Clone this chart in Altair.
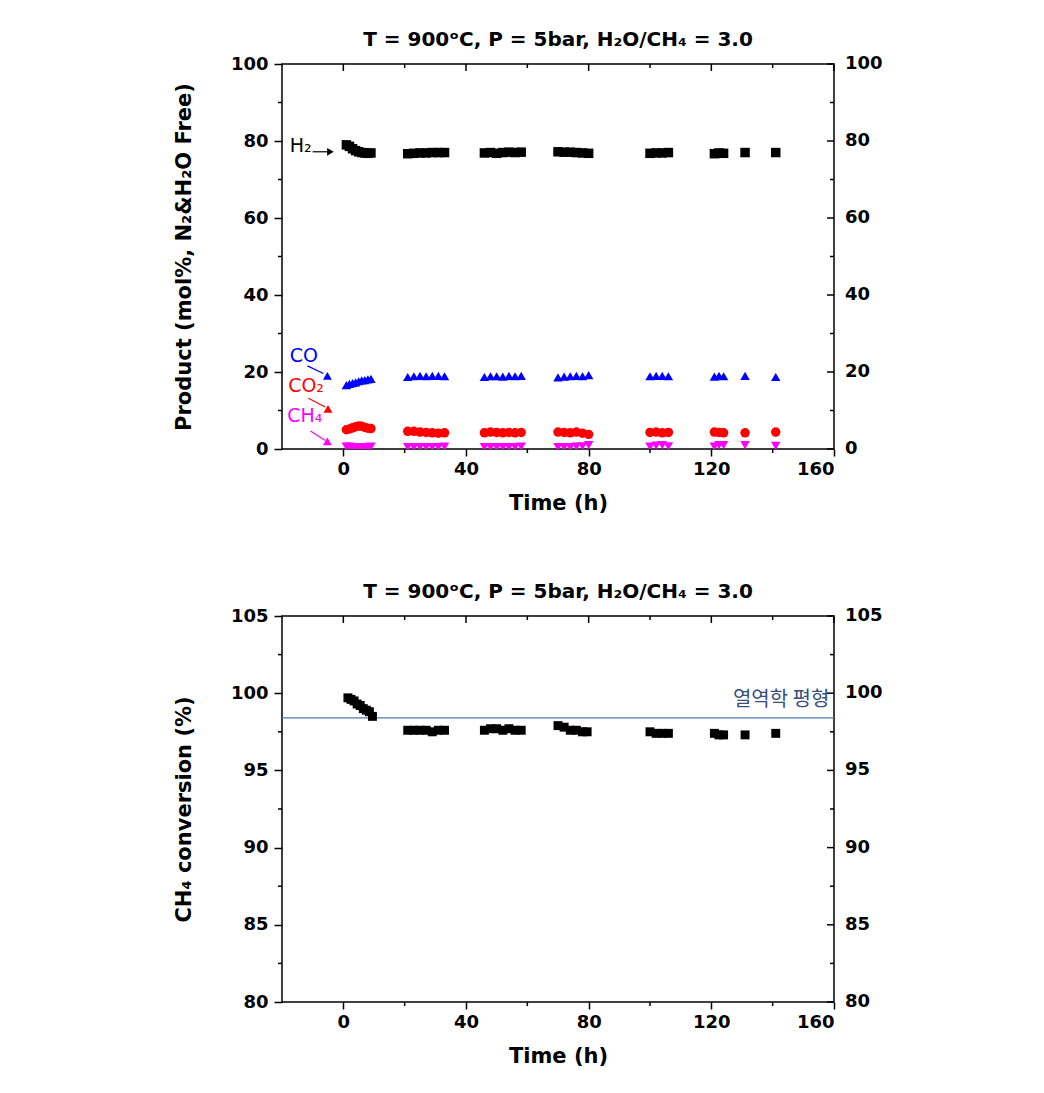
import altair as alt
import pandas as pd

# ---------------- data ----------------
# product composition (mol%, N2 & H2O free)
time_h = [1, 2, 3, 4, 5, 6, 7, 8, 9,
          21, 23, 25, 27, 29, 31, 33,
          46, 48, 50, 52, 54, 56, 58,
          70, 72, 74, 76, 78, 80,
          100, 102, 104, 106,
          121, 122.5, 124,
          131,
          141]
h2 = [79.0, 78.6, 78.0, 77.5, 77.2, 77.0, 76.9, 76.8, 76.9,
      76.7, 76.8, 76.9, 76.9, 77.0, 77.0, 77.0,
      76.9, 77.0, 76.8, 77.0, 77.1, 77.0, 77.1,
      77.2, 77.1, 77.1, 77.0, 76.9, 76.8,
      76.8, 76.9, 76.9, 77.0,
      76.7, 76.9, 76.8,
      77.0,
      77.0]
co = [16.6, 16.9, 17.1, 17.3, 17.6, 17.8, 17.9, 18.1, 18.2,
      18.7, 18.9, 19.0, 18.9, 19.0, 19.0, 18.9,
      18.7, 18.9, 18.9, 18.8, 19.0, 18.9, 19.0,
      18.6, 18.8, 18.9, 19.0, 18.9, 19.2,
      18.9, 19.0, 19.0, 18.9,
      18.8, 19.0, 18.9,
      19.0,
      18.7]
co2 = [5.0, 5.2, 5.5, 5.8, 6.0, 5.9, 5.6, 5.4, 5.3,
       4.6, 4.6, 4.4, 4.3, 4.2, 4.1, 4.2,
       4.2, 4.4, 4.3, 4.2, 4.3, 4.2, 4.3,
       4.4, 4.3, 4.2, 4.4, 4.1, 3.8,
       4.3, 4.4, 4.2, 4.3,
       4.4, 4.3, 4.2,
       4.2,
       4.4]
ch4 = [0.6, 0.6, 0.5, 0.5, 0.5, 0.5, 0.5, 0.5, 0.6,
       0.5, 0.5, 0.5, 0.5, 0.5, 0.5, 0.6,
       0.5, 0.5, 0.5, 0.5, 0.5, 0.5, 0.6,
       0.5, 0.5, 0.5, 0.6, 0.7, 1.0,
       0.6, 0.9, 1.0, 0.7,
       0.6, 1.0, 1.0,
       1.0,
       0.8]

# CH4 conversion (%)
conv_time = [1.5, 2.5, 3.5, 4.5, 5.5, 6.5, 7.5, 8.5, 9.5,
             21, 23, 25, 27, 29, 31, 33,
             46, 48, 50, 52, 54, 56, 58,
             70, 72, 74, 76, 78, 79.5,
             100, 102, 104, 106,
             121, 122.5, 124,
             131,
             141]
ch4_conv = [99.7, 99.6, 99.5, 99.3, 99.2, 99.0, 98.9, 98.8, 98.5,
            97.6, 97.6, 97.6, 97.6, 97.5, 97.6, 97.6,
            97.6, 97.7, 97.7, 97.6, 97.7, 97.6, 97.6,
            97.9, 97.8, 97.6, 97.6, 97.5, 97.5,
            97.5, 97.4, 97.4, 97.4,
            97.4, 97.3, 97.3,
            97.3,
            97.4]

equilibrium_value = [98.4]
equilibrium_label = ["열역학 평형"]
equilibrium_label_t = [158.5]

title_text = "T = 900ᵒC, P = 5bar, H₂O/CH₄ = 3.0"

series_names = ["H₂", "CO", "CO₂", "CH₄"]
series_colors = ["#000000", "#0000ff", "#ff0000", "#ff00ff"]
series_shapes = ["square", "triangle-up", "circle", "triangle-down"]

# in-plot labels with arrows (top panel, data units)
ann_label = ["H₂", "CO", "CO₂", "CH₄"]
ann_text_t = [-17.5, -17.5, -18.0, -18.3]
ann_text_v = [78.6, 24.2, 16.4, 8.6]
ann_line_t1 = [-10.0, -11.7, -11.4, -10.7]
ann_line_v1 = [77.2, 21.6, 13.2, 4.7]
ann_line_t2 = [-4.5, -6.5, -5.9, -5.9]
ann_line_v2 = [77.2, 19.6, 10.9, 2.2]
ann_head_t = [-4.2, -5.2, -5.0, -5.2]
ann_head_v = [77.2, 19.0, 10.4, 2.0]

# axis ticks
x_major = [0, 40, 80, 120, 160]
x_minor = [20, 60, 100, 140]
y1_major = [0, 20, 40, 60, 80, 100]
y1_minor = [10, 30, 50, 70, 90]
y2_major = [80, 85, 90, 95, 100, 105]
y2_minor = [82.5, 87.5, 92.5, 97.5, 102.5]

# ---------------- layout constants ----------------
W, H1, H2 = 552, 385, 386
XDOM = [-20, 160]
FONT = "DejaVu Sans"

X_AXIS = alt.Axis(values=x_major, tickSize=7, title="Time (h)", titlePadding=14, labelPadding=4)


def xs(field="t"):
    return alt.X(f"{field}:Q", scale=alt.Scale(domain=XDOM, nice=False, zero=False), axis=X_AXIS)


def ys(dom, axis, field="v"):
    return alt.Y(f"{field}:Q", scale=alt.Scale(domain=dom, nice=False, zero=False), axis=axis)


def y_axis(major, title):
    return alt.Axis(values=major, tickSize=8, title=title, titlePadding=36, labelPadding=6)


def frame_layers(dom, yax, ymaj, ymin, height):
    """minor outward ticks on left/bottom, inward ticks on top/right, right-side labels"""
    out = []
    out.append(alt.Chart(pd.DataFrame({"t": x_minor})).mark_rule(color="black", strokeWidth=1.5)
               .encode(x=xs("t"), y=alt.value(height), y2=alt.value(height + 4)))
    out.append(alt.Chart(pd.DataFrame({"v": ymin})).mark_rule(color="black", strokeWidth=1.5)
               .encode(y=ys(dom, yax, "v"), x=alt.value(0), x2=alt.value(-4)))
    for vals, ln in ((x_major, 7), (x_minor, 4)):
        out.append(alt.Chart(pd.DataFrame({"t": vals})).mark_rule(color="black", strokeWidth=1.5)
                   .encode(x=xs("t"), y=alt.value(0), y2=alt.value(ln)))
    for vals, ln in ((ymaj, 7), (ymin, 4)):
        out.append(alt.Chart(pd.DataFrame({"v": vals})).mark_rule(color="black", strokeWidth=1.5)
                   .encode(y=ys(dom, yax, "v"), x=alt.value(W), x2=alt.value(W - ln)))
    lab = pd.DataFrame({"v": ymaj, "lab": [f"{v:g}" for v in ymaj]})
    out.append(alt.Chart(lab).mark_text(align="left", baseline="middle", font=FONT, fontSize=18,
                                        fontWeight="bold", color="black")
               .encode(y=ys(dom, yax, "v"), x=alt.value(W + 11), text="lab:N"))
    return out


title_params = alt.TitleParams(title_text, font=FONT, fontSize=20, fontWeight="bold",
                               anchor="middle", frame="group", offset=5, color="black")

# ---------------- top panel ----------------
D1 = [0, 100]
Y1_AXIS = y_axis(y1_major, "Product (mol%, N₂&H₂O Free)")
rows = []
for name, vals in zip(series_names, [h2, co, co2, ch4]):
    for t, v in zip(time_h, vals):
        rows.append({"series": name, "t": t, "v": v})
df_prod = pd.DataFrame(rows)

color_enc = alt.Color("series:N", scale=alt.Scale(domain=series_names, range=series_colors), legend=None)

points = alt.Chart(df_prod).mark_point(filled=True, opacity=1, size=90, clip=True).encode(
    x=xs("t"),
    y=ys(D1, Y1_AXIS, "v"),
    color=color_enc,
    shape=alt.Shape("series:N", scale=alt.Scale(domain=series_names, range=series_shapes), legend=None),
)

df_ann = pd.DataFrame({"series": ann_label, "tt": ann_text_t, "tv": ann_text_v,
                       "t1": ann_line_t1, "v1": ann_line_v1, "t2": ann_line_t2, "v2": ann_line_v2,
                       "ht": ann_head_t, "hv": ann_head_v})

ann_text = alt.Chart(df_ann).mark_text(align="left", baseline="middle", font=FONT, fontSize=19).encode(
    x=xs("tt"), y=ys(D1, Y1_AXIS, "tv"), text="series:N", color=color_enc)
ann_lines = alt.Chart(df_ann).mark_rule(strokeWidth=1.2).encode(
    x=xs("t1"), x2="t2:Q", y=ys(D1, Y1_AXIS, "v1"), y2="v2:Q", color=color_enc)
ann_head_h2 = alt.Chart(df_ann).transform_filter(alt.datum.series == "H₂").mark_point(
    shape="triangle-right", filled=True, opacity=1, size=60).encode(
    x=xs("ht"), y=ys(D1, Y1_AXIS, "hv"), color=color_enc)
ann_head_other = alt.Chart(df_ann).transform_filter(alt.datum.series != "H₂").mark_point(
    shape="triangle-up", filled=True, opacity=1, size=80).encode(
    x=xs("ht"), y=ys(D1, Y1_AXIS, "hv"), color=color_enc)

top = alt.layer(points, ann_lines, ann_text, ann_head_h2, ann_head_other,
                *frame_layers(D1, Y1_AXIS, y1_major, y1_minor, H1)).properties(
    width=W, height=H1, title=title_params)

# ---------------- bottom panel ----------------
D2 = [80, 105]
Y2_AXIS = y_axis(y2_major, "CH₄ conversion (%)")
df_conv = pd.DataFrame({"t": conv_time, "v": ch4_conv})
conv_pts = alt.Chart(df_conv).mark_point(shape="square", filled=True, opacity=1, size=80,
                                         color="black").encode(
    x=xs("t"),
    y=ys(D2, Y2_AXIS, "v"),
)
df_eq = pd.DataFrame({"v": equilibrium_value, "t": equilibrium_label_t, "label": equilibrium_label})
eq_line = alt.Chart(df_eq).mark_rule(color="#4f79a8", strokeWidth=1.3).encode(y=ys(D2, Y2_AXIS, "v"))
eq_text = alt.Chart(df_eq).mark_text(align="right", baseline="bottom", dy=-8, font="Noto Sans CJK KR",
                                     fontSize=20, color="#34507a").encode(
    x=xs("t"), y=ys(D2, Y2_AXIS, "v"), text="label:N")

bottom = alt.layer(eq_line, conv_pts, eq_text,
                   *frame_layers(D2, Y2_AXIS, y2_major, y2_minor, H2)).properties(
    width=W, height=H2, title=title_params)

chart = alt.vconcat(top, bottom, spacing=67).properties(
    padding={"left": 172, "top": 29, "right": 10, "bottom": 10}
).configure_view(stroke="black", strokeWidth=1.5).configure_axis(
    labelFont=FONT, labelFontSize=18, labelFontWeight="bold", labelColor="black",
    titleFont=FONT, titleFontSize=21, titleFontWeight="bold", titleColor="black",
    tickColor="black", tickWidth=1.5, grid=False, domain=False,
)

chart.save("out.html", embed_options={"renderer": "svg", "actions": False})
